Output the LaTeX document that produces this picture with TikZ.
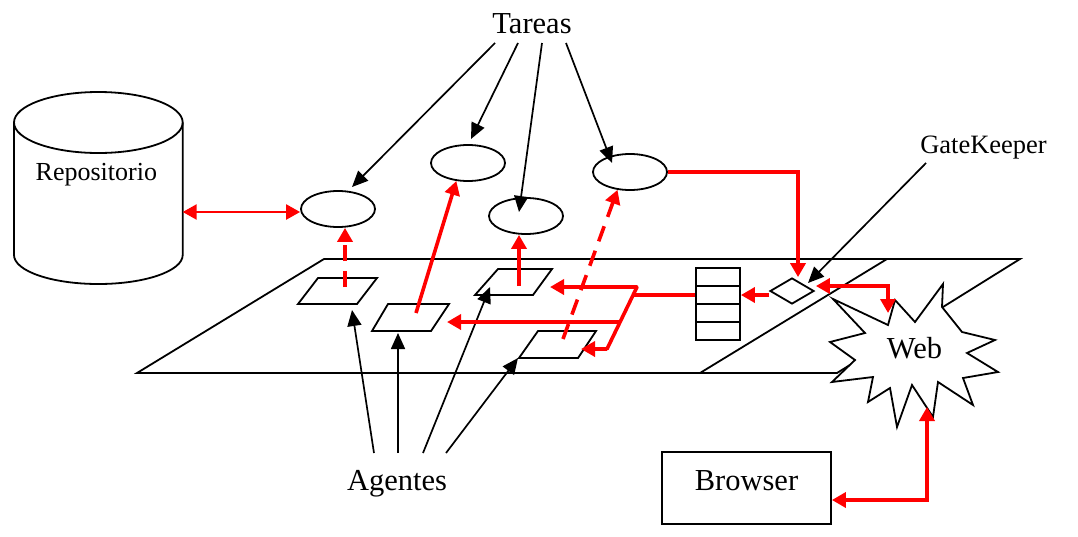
\documentclass[tikz,border=0pt]{standalone}
\usepackage{fontspec}
\setmainfont{Liberation Serif}
\usetikzlibrary{arrows.meta,shapes.geometric,calc}
\begin{document}
\begin{tikzpicture}[x=1pt,y=-1pt,
  outl/.style={line width=1.8pt},
  blkarr/.style={line width=1.7pt,-{Triangle[length=16pt,width=14pt]}},
  redln/.style={draw=red,line width=3.6pt},
  redarr/.style={redln,-{Triangle[length=14pt,width=15pt]}},
  redboth/.style={redln,{Triangle[length=14pt,width=15pt]}-{Triangle[length=14pt,width=15pt]}},
  reddash/.style={redarr,dash pattern=on 16pt off 10pt},
  task/.style={ellipse,draw,outl,minimum width=74pt,minimum height=36pt,inner sep=0pt},
  lbl/.style={anchor=base,inner sep=0pt,font=\fontsize{30.5}{36}\selectfont},
  lblsm/.style={anchor=base,inner sep=0pt,font=\fontsize{26}{31}\selectfont},
  cell/.style={draw,outl,minimum width=44pt,minimum height=18pt,inner sep=0pt},
]
\useasboundingbox (0,0) rectangle (1078,536);

% plane
\draw[outl,line join=miter] (137,373) -- (324,259) -- (1020,259) -- (837,373) -- cycle;
\draw[outl] (700,373) -- (887,259);

% repository
\draw[outl] (98.35,122.5) ellipse[x radius=84.35,y radius=30.5];
\draw[outl] (14,122.5) -- (14,255) arc[start angle=180,end angle=0,x radius=84.35,y radius=29] -- (182.7,122.5);
\node[lblsm] (repo) at (96.4,180) {Repositorio};

% agent boxes
\draw[outl] (318,278) -- (377,278) -- (357,304) -- (298,304) -- cycle;
\draw[outl] (388,304) -- (449,304) -- (431,331) -- (372,331) -- cycle;
\draw[outl] (498,269) -- (552,269) -- (533,295) -- (475,295) -- cycle;
\draw[outl] (538,331) -- (596,331) -- (578,358) -- (519,358) -- cycle;

% tasks
\node[task] (e1) at (338,209) {};
\node[task] (e2) at (468,163) {};
\node[task] (e3) at (526,216) {};
\node[task] (e4) at (630,172) {};

% queue
\node[cell] (q1) at (718,277) {};
\node[cell] (q2) at (718,295) {};
\node[cell] (q3) at (718,313) {};
\node[cell] (q4) at (718,331) {};

% gatekeeper diamond
\node[diamond,draw,outl,fill=white,minimum width=44pt,minimum height=26pt,inner sep=0pt] (gk) at (792,291) {};

% web star
\draw[outl,fill=white,line join=miter] (833,299) -- (888,325) -- (895,300) -- (915,322) -- (943,284) -- (942,307) -- (962,332) -- (995,340) -- (967,353) -- (998,372) -- (963,378) -- (973,405) -- (938,382) -- (933,417) -- (912,385) -- (897,427) -- (890,388) -- (868,402) -- (873,377) -- (832,382) -- (855,360) -- (830,342) -- (865,333) -- cycle;
\node[lbl] (web) at (914.5,358) {Web};

% browser
\node[draw,outl,minimum width=169pt,minimum height=72pt,inner sep=0pt,font=\fontsize{30.5}{36}\selectfont,text depth=14pt] (browser) at (746.5,488) {Browser};

% labels
\node[lbl] (tareas) at (532,33) {Tareas};
\node[lbl] (agentes) at (397,490) {Agentes};
\node[lblsm,font=\fontsize{26.5}{31}\selectfont] (gatekeeper) at (983.5,153) {GateKeeper};

% coordinates
\coordinate (p1c) at (345,287);
\coordinate (p2c) at (416,313);
\coordinate (p3c) at (519,286);
\coordinate (p4c) at (563,339);
\coordinate (p1b) at (352,310);
\coordinate (p2b) at (398,333);
\coordinate (p3b) at (490,287);
\coordinate (p4b) at (518,358);
\coordinate (p2r) at (447,322);
\coordinate (p3r) at (550,287);
\coordinate (p4r) at (581,349);
\coordinate (st) at (637,287);
\coordinate (sm) at (620,322);
\coordinate (sb) at (607,349);
\coordinate (sj) at (633.1,295);
\coordinate (webN) at (888,313);
\coordinate (webS) at (927,407);
\coordinate (repoR) at (182.7,212);
\coordinate (t1) at (495,43);
\coordinate (t2) at (518,43);
\coordinate (t3) at (542,43);
\coordinate (t4) at (566,43);
\coordinate (a1) at (352,187);
\coordinate (a2) at (471,139);
\coordinate (a3) at (519,212);
\coordinate (a4) at (612,163);
\coordinate (g0) at (926,163);
\coordinate (gktip) at (808,283);
\coordinate (g1) at (374,453);
\coordinate (g2) at (398,453);
\coordinate (g3) at (423,453);
\coordinate (g4) at (446,453);

% black arrows
\draw[blkarr] (t1) -- (a1);
\draw[blkarr] (t2) -- (a2);
\draw[blkarr] (t3) -- (a3);
\draw[blkarr] (t4) -- (a4);
\draw[blkarr] (g0) -- (gktip);
\draw[blkarr] (g1) -- (p1b);
\draw[blkarr] (g2) -- (p2b);
\draw[blkarr] (g3) -- (p3b);
\draw[blkarr] (g4) -- (p4b);

% red arrows
\draw[redboth,line width=2.4pt] (repoR) -- (e1.west |- repoR);
\draw[reddash] (p1c) -- (p1c |- e1.south);
\draw[redarr] (p2c) -- (e2.237);
\draw[redarr] (p3c) -- (p3c |- e3.south);
\draw[reddash] (p4c) -- (e4.235);
\draw[redarr,line join=miter] (e4.east) -| ($(gk.north)+(6,0)$);
\draw[redarr] (q2.east -| gk.west) -- (q2.east);
\draw[redln] (q2.west) -- (sj);
\draw[redln,line cap=round] (st) -- (sb);
\draw[redarr] (st) -- (p3r);
\draw[redarr] (sm) -- (p2r);
\draw[redarr] (sb) -- (p4r);
\draw[redboth,line join=miter] ($(gk.east)+(1,-5)$) -| (webN);
\draw[redboth,line join=miter] (webS) |- ($(browser.east)+(0,12)$);
\end{tikzpicture}
\end{document}
